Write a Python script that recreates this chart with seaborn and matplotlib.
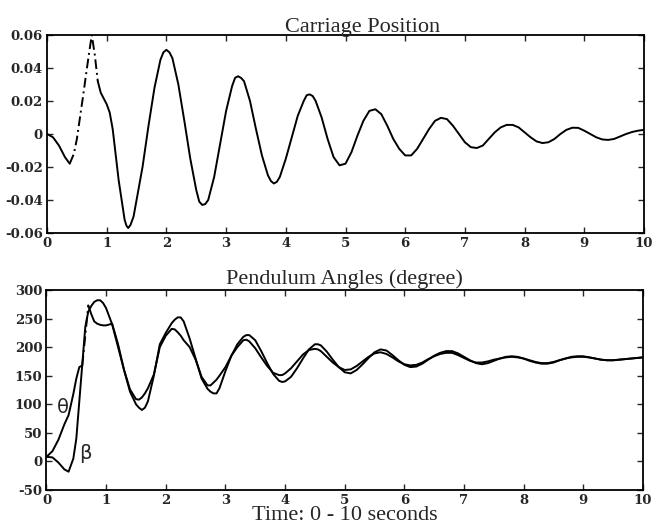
import numpy as np
import pandas as pd
import matplotlib
matplotlib.use("Agg")
import matplotlib.pyplot as plt
import seaborn as sns

# carriage position (m)
t_pos = [0.0, 0.1, 0.2, 0.3, 0.38, 0.45, 0.5, 0.6, 0.7, 0.75, 0.8, 0.85, 0.9, 1.0, 1.05,
         1.1, 1.2, 1.3, 1.33, 1.36, 1.4, 1.45, 1.6, 1.7, 1.8, 1.9, 1.95, 2.0, 2.05, 2.1,
         2.2, 2.3, 2.4, 2.5, 2.55, 2.6, 2.65, 2.7, 2.8, 2.9, 3.0, 3.1, 3.15, 3.2, 3.25,
         3.3, 3.4, 3.5, 3.6, 3.7, 3.75, 3.8, 3.85, 3.9, 4.0, 4.1, 4.2, 4.3, 4.35, 4.4,
         4.45, 4.5, 4.6, 4.7, 4.8, 4.9, 5.0, 5.1, 5.2, 5.3, 5.4, 5.5, 5.6, 5.7, 5.8,
         5.9, 6.0, 6.1, 6.2, 6.3, 6.4, 6.5, 6.6, 6.7, 6.8, 6.9, 7.0, 7.1, 7.2, 7.3,
         7.4, 7.5, 7.6, 7.7, 7.8, 7.9, 8.0, 8.1, 8.2, 8.3, 8.4, 8.5, 8.6, 8.7, 8.8,
         8.9, 9.0, 9.1, 9.2, 9.3, 9.4, 9.5, 9.6, 9.7, 9.8, 9.9, 10.0]
pos = [0.000, -0.002, -0.007, -0.014, -0.018, -0.012, -0.003, 0.022, 0.048, 0.060, 0.048, 0.032,
       0.025, 0.018, 0.013, 0.003, -0.028, -0.052, -0.0555, -0.057, -0.055, -0.050, -0.020, 0.005,
       0.028, 0.045, 0.0495, 0.051, 0.0495, 0.046, 0.030, 0.008, -0.015, -0.034, -0.041, -0.043,
       -0.0425, -0.040, -0.026, -0.006, 0.014, 0.029, 0.034, 0.035, 0.034, 0.032, 0.020, 0.003,
       -0.013, -0.025, -0.0285, -0.030, -0.029, -0.026, -0.015, -0.002, 0.011, 0.020, 0.0235,
       0.024, 0.023, 0.020, 0.010, -0.003, -0.014, -0.019, -0.018, -0.011, -0.001, 0.008, 0.014,
       0.015, 0.012, 0.005, -0.003, -0.009, -0.013, -0.013, -0.009, -0.003, 0.003, 0.008, 0.0098,
       0.009, 0.005, 0.000, -0.005, -0.008, -0.0085, -0.007, -0.003, 0.001, 0.004, 0.0055, 0.0055,
       0.004, 0.001, -0.002, -0.0045, -0.0055, -0.005, -0.003, 0.000, 0.0025, 0.0038, 0.0037,
       0.002, 0.000, -0.002, -0.0033, -0.0036, -0.003, -0.0015, 0.000, 0.0012, 0.002, 0.0025]

# pendulum angles (degree)
t_ang = [0.0, 0.1, 0.2, 0.3, 0.37, 0.45, 0.5, 0.55, 0.6, 0.65, 0.7, 0.75, 0.8, 0.85, 0.9,
         0.95, 1.0, 1.1, 1.2, 1.3, 1.4, 1.5, 1.55, 1.6, 1.65, 1.7, 1.8, 1.9, 2.0, 2.1,
         2.15, 2.2, 2.25, 2.3, 2.4, 2.5, 2.6, 2.7, 2.75, 2.8, 2.85, 2.9, 3.0, 3.1, 3.2,
         3.3, 3.35, 3.4, 3.5, 3.6, 3.7, 3.8, 3.9, 3.95, 4.0, 4.1, 4.2, 4.3, 4.4, 4.5,
         4.55, 4.6, 4.7, 4.8, 4.9, 5.0, 5.1, 5.2, 5.3, 5.4, 5.5, 5.6, 5.7, 5.8, 5.9,
         6.0, 6.1, 6.2, 6.3, 6.4, 6.5, 6.6, 6.7, 6.8, 6.9, 7.0, 7.1, 7.2, 7.3, 7.4,
         7.5, 7.6, 7.7, 7.8, 7.9, 8.0, 8.1, 8.2, 8.3, 8.4, 8.5, 8.6, 8.7, 8.8, 8.9,
         9.0, 9.1, 9.2, 9.3, 9.4, 9.5, 9.6, 9.7, 9.8, 9.9, 10.0]
theta = [8, 18, 38, 65, 81, 118, 145, 165, 168, 220, 273, 258, 245, 241, 239,
         238, 238, 241, 205, 160, 126, 109, 108, 112, 119, 128, 152, 200, 220, 232,
         231, 226, 220, 212, 200, 178, 148, 133, 133, 138, 143, 150, 165, 185, 200,
         212, 213, 210, 198, 182, 167, 155, 151, 151, 154, 163, 175, 187, 195, 197,
         196, 193, 183, 173, 165, 160, 161, 167, 175, 183, 189, 191, 188, 182, 175,
         170, 168, 169, 173, 179, 184, 188, 190, 190, 186, 181, 176, 173, 173, 175,
         178, 180, 182, 183, 182, 180, 177, 174, 172, 172, 174, 177, 180, 182, 183,
         183, 182, 180, 178, 177, 177, 178, 179, 180, 181, 182]
beta = [8, 7, -2, -14, -18, 5, 40, 105, 170, 235, 262, 272, 279, 282, 282,
        277, 268, 240, 200, 160, 122, 100, 94, 90, 94, 105, 150, 205, 225, 242,
        248, 252, 252, 245, 215, 180, 145, 127, 122, 119, 119, 128, 158, 185, 205,
        218, 221, 221, 212, 193, 172, 153, 141, 139, 140, 148, 163, 180, 196, 205,
        205, 203, 192, 178, 165, 156, 154, 160, 170, 181, 191, 196, 194, 186, 177,
        169, 165, 166, 171, 178, 185, 190, 193, 193, 189, 183, 177, 172, 170, 172,
        176, 180, 183, 184, 183, 180, 176, 173, 171, 171, 173, 177, 180, 183, 184,
        184, 182, 180, 178, 177, 177, 178, 179, 180, 181, 182]

x_ticks = list(range(0, 11))
pos_ticks = [-0.06, -0.04, -0.02, 0, 0.02, 0.04, 0.06]
pos_labels = ["-0.06", "-0.04", "-0.02", "0", "0.02", "0.04", "0.06"]
ang_ticks = [-50, 0, 50, 100, 150, 200, 250, 300]

sns.set_style("ticks")
plt.rcParams["font.family"] = ["Liberation Serif", "DejaVu Serif"]

pos_df = pd.DataFrame({"t": t_pos, "x": pos})
ang_df = pd.DataFrame({"t": t_ang, "theta": theta, "beta": beta})

fig = plt.figure(figsize=(6.54, 5.30), dpi=100)
ax1 = fig.add_axes([0.0719, 0.5604, 0.9128, 0.3736])
ax2 = fig.add_axes([0.0711, 0.0755, 0.9120, 0.3774])

lw = 1.4
dashdot = (0, (5, 2, 1, 2))
# steep part of the carriage trace came out broken in the print -> dash-dot
sns.lineplot(data=pos_df.iloc[:5], x="t", y="x", ax=ax1, color="black", lw=lw, estimator=None, sort=False)
sns.lineplot(data=pos_df.iloc[4:12], x="t", y="x", ax=ax1, color="black", lw=lw,
             linestyle=dashdot, estimator=None, sort=False)
sns.lineplot(data=pos_df.iloc[11:], x="t", y="x", ax=ax1, color="black", lw=lw, estimator=None, sort=False)

sns.lineplot(data=ang_df.iloc[:9], x="t", y="theta", ax=ax2, color="black", lw=lw, estimator=None, sort=False)
sns.lineplot(data=ang_df.iloc[8:11], x="t", y="theta", ax=ax2, color="black", lw=lw,
             linestyle=dashdot, estimator=None, sort=False)
sns.lineplot(data=ang_df.iloc[10:], x="t", y="theta", ax=ax2, color="black", lw=lw, estimator=None, sort=False)
sns.lineplot(data=ang_df, x="t", y="beta", ax=ax2, color="black", lw=lw, estimator=None, sort=False)

ax2.text(0.28, 95, "θ", fontsize=14, family=["DejaVu Sans"], ha="center", va="center")
ax2.text(0.66, 14, "β", fontsize=14, family=["DejaVu Sans"], ha="center", va="center")

for ax in (ax1, ax2):
    ax.set_xlim(0, 10)
    ax.set_xticks(x_ticks)
    ax.set_xticklabels([str(v) for v in x_ticks])
    ax.tick_params(direction="in", length=4, width=1, top=True, right=True, pad=3)
    for sp in ax.spines.values():
        sp.set_visible(True)
        sp.set_linewidth(1.3)
        sp.set_color("black")
    ax.set_xlabel("")
    ax.set_ylabel("")

ax1.set_ylim(-0.06, 0.06)
ax1.set_yticks(pos_ticks)
ax1.set_yticklabels(pos_labels)
ax1.set_title("Carriage Position", fontsize=16, pad=2, x=0.528)

ax2.set_ylim(-50, 300)
ax2.set_yticks(ang_ticks)
ax2.set_yticklabels([str(v) for v in ang_ticks])
ax2.set_title("Pendulum Angles (degree)", fontsize=16, pad=4)
ax2.set_xlabel("Time: 0 - 10 seconds", fontsize=16, labelpad=-1)

for ax in (ax1, ax2):
    for lab in ax.get_xticklabels() + ax.get_yticklabels():
        lab.set_family(["DejaVu Serif"])
        lab.set_fontweight("bold")
        lab.set_fontsize(9.5)

fig.savefig("out.png", dpi=100)
